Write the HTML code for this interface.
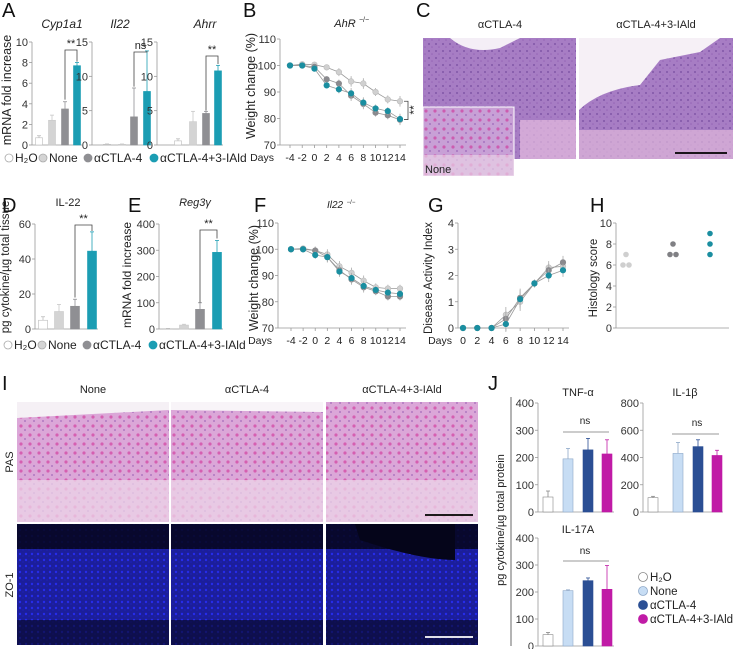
<!DOCTYPE html>
<html><head><meta charset="utf-8"><style>
body{margin:0;background:#fff;}
svg{display:block;font-family:"Liberation Sans",sans-serif;}
</style></head><body>
<svg id="fig" width="733" height="649" viewBox="0 0 733 649" xmlns="http://www.w3.org/2000/svg">
<defs>
<pattern id="tex1" width="7" height="7" patternUnits="userSpaceOnUse"><circle cx="2" cy="2" r="1" fill="#5b2f8a" opacity="0.5"/><circle cx="5" cy="5" r="0.8" fill="#7a3fa0" opacity="0.4"/></pattern>
<pattern id="tex2" width="9" height="9" patternUnits="userSpaceOnUse"><circle cx="3" cy="3" r="1.6" fill="#d0188a" opacity="0.5"/><circle cx="7" cy="7" r="1" fill="#7030a0" opacity="0.4"/></pattern>
<pattern id="tex3" width="6" height="6" patternUnits="userSpaceOnUse"><circle cx="2" cy="2" r="1.2" fill="#2830ff" opacity="0.8"/><circle cx="5" cy="4" r="0.9" fill="#1a20c0" opacity="0.7"/></pattern>
</defs>
<g id="root"></g>
</svg>
<script>
// ---- data arrays ----
const groups = ["H2O","None","aCTLA-4","aCTLA-4+3-IAld"];
const cyp1a1 = [0.7,2.4,3.5,7.7];
const cyp1a1Err = [0.2,0.5,0.7,0.3];
const il22 = [0.1,0.1,4.1,7.8];
const il22Err = [0.05,0.05,4.2,5.9];
const ahrr = [0.6,3.4,4.6,10.8];
const ahrrErr = [0.3,1.5,0.3,0.8];
const il22Prot = [5,10,13,44.5];
const il22ProtErr = [2,4,4,11];
const reg3g = [1,15,75,292];
const reg3gErr = [1,3,25,45];
const wDays = [-4,-2,0,2,4,6,8,10,12,14];
const bNone = [100,100.5,100.3,99.3,97.5,94,93.2,90,87.2,86.5];
const bCtla = [100,100,99.5,94.8,93.2,88.6,85.5,82.2,81.2,79.5];
const bIald = [100,100,98.8,92.5,91,89.5,86,83.8,82.8,79.8];
const bErr = [0.5,0.8,1,1,1.5,2,2,1.5,1.5,2];
const fNone = [100,100.3,99.5,98,93.5,91,88,85.5,85,85];
const fCtla = [100,100,99.5,97,92,88.5,85.5,84,82,82];
const fIald = [100,100,97.8,97,91.5,89,86,84.5,83.5,83];
const fErr = [0.5,0.8,1.5,2,2,2,2,1.5,1.5,1.5];
const gDays = [0,2,4,6,8,10,12,14];
const gNone = [0,0,0,0.5,1,1.7,2.3,2.35];
const gCtla = [0,0,0,0.35,1.15,1.7,2.2,2.5];
const gIald = [0,0,0,0.15,1.1,1.7,2.0,2.2];
const gErr = [0,0,0,0.3,0.35,0.15,0.25,0.25];
const hNone = [6,6,7];
const hCtla = [7,7,8];
const hIald = [7,8,9];
const tnf = [55,195,228,213];
const tnfErr = [22,38,42,52];
const il1b = [105,430,480,415];
const il1bErr = [10,80,50,38];
const il17 = [42,205,242,210];
const il17Err = [8,3,10,88];
const tickA10 = [0,2,4,6,8,10];
const tick15 = [0,5,10,15];
const tick60 = [0,20,40,60];
const tick400 = [0,100,200,300,400];
const tick800 = [0,200,400,600,800];
const tickW = [70,80,90,100,110];
const tickDAI = [0,1,2,3,4];
const tickH = [0,2,4,6,8,10];

const NS="http://www.w3.org/2000/svg";
const root=document.getElementById('root');
function el(tag,attrs,parent,text){const e=document.createElementNS(NS,tag);for(const k in attrs)e.setAttribute(k,attrs[k]);if(text!==undefined)e.textContent=text;(parent||root).appendChild(e);return e;}
function grp(name){const g=el('g',{});


return g;}
function lin(d0,d1,r0,r1){return v=>r0+(v-d0)*(r1-r0)/(d1-d0);}
const C_A=['#ffffff','#d4d4d4','#8f8f93','#1b9db3'];
const S_A=['#bbb','#c8c8c8','#8f8f93','#1b9db3'];
const C_J=['#ffffff','#c7ddf4','#2b4f94','#c01ba6'];
const S_J=['#888','#8ea8c8','#2b4f94','#c01ba6'];

function txt(g,x,y,s,opt){opt=opt||{};const t=el('text',{x:x,y:y,'font-size':opt.fs||10,'text-anchor':opt.a||'middle',fill:opt.fill||'#222','font-style':opt.it?'italic':'normal'},g,s);if(opt.rot)t.setAttribute('transform','rotate(-90 '+x+' '+y+')');return t;}

function yAxis(g,x,y,ticks,fs){const lo=ticks[0],hi=ticks[ticks.length-1];
 el('line',{x1:x,y1:y(hi),x2:x,y2:y(lo),stroke:'#999','stroke-width':0.8},g);
 ticks.forEach(t=>{el('line',{x1:x-3,y1:y(t),x2:x,y2:y(t),stroke:'#999','stroke-width':0.8},g);
   txt(g,x-4,y(t)+4,String(t),{a:'end',fs:fs||11,fill:'#333'});});}

function barChart(name,ax,vals,errs,xs,y,ticks,bw,cols,strokes,x2){
 const g=grp(name);yAxis(g,ax,y,ticks);
 el('line',{x1:ax,y1:y(ticks[0]),x2:x2||ax+4,y2:y(ticks[0]),stroke:'#999','stroke-width':0.8},g);
 vals.forEach((v,i)=>{const ye=y(v+errs[i]);
  el('line',{x1:xs[i],y1:y(v),x2:xs[i],y2:ye,stroke:strokes[i],'stroke-width':0.8},g);
  el('line',{x1:xs[i]-2,y1:ye,x2:xs[i]+2,y2:ye,stroke:strokes[i],'stroke-width':0.8},g);
  const r=el('rect',{x:xs[i]-bw/2,y:y(v),width:bw,height:y(ticks[0])-y(v),fill:cols[i],stroke:strokes[i],'stroke-width':0.6},g);
  
  });
 return g;}
function bracket(g,x1,x2,yTop,y1,y2,label){el('path',{d:`M${x1} ${y1}V${yTop}H${x2}V${y2}`,fill:'none',stroke:'#444','stroke-width':0.8},g);txt(g,(x1+x2)/2,yTop-3,label,{fs:11});}

function letter(s,x,y){const t=txt(root,x,y,s,{a:'start',fs:20,fill:'#111'});
 
 }

letter('A',2,17);letter('B',243,17);letter('C',416,17);
letter('D',2,212);letter('E',128,212);letter('F',254,212);letter('G',428,212);letter('H',590,212);
letter('I',2,390);letter('J',488,390);

// ---- Panel A ----
const yA10=lin(0,10,145,42), yA15=lin(0,15,145,42);
let g=barChart('cyp1a1-chart',32,cyp1a1,cyp1a1Err,[39,52,65,77],yA10,tickA10,7,C_A,S_A,82);
txt(g,62,28,'Cyp1a1',{fs:12,it:true});bracket(g,65,77,50,yA10(4.4),yA10(8.1),'**');
txt(g,11,90,'mRNA fold increase',{fs:12.5,rot:true});
g=barChart('il22-mrna-chart',92,il22,il22Err,[107,122,134,147],yA15,tick15,7,C_A,S_A,152);
txt(g,120,28,'Il22',{fs:12,it:true});bracket(g,134,147,52,yA15(8.5),yA15(13.7),'ns');
g=barChart('ahrr-chart',157,ahrr,ahrrErr,[178,193,206,218],yA15,tick15,7,C_A,S_A,223);
txt(g,205,28,'Ahrr',{fs:12,it:true});bracket(g,206,218,56,yA15(5),yA15(11.8),'**');

function legendA(y,x0,name){const lg=grp(name);
 const items=[['H\u2082O',0],['None',1],['\u03b1CTLA-4',2],['\u03b1CTLA-4+3-IAld',3]];
 const xs=[x0,x0+34,x0+79,x0+145];
 items.forEach((it,i)=>{el('circle',{cx:xs[i]+4,cy:y-4,r:4,fill:C_A[i],stroke:i<2?'#aaa':C_A[i],'stroke-width':0.8},lg);txt(lg,xs[i]+10,y,it[0],{a:'start',fs:12});});}
legendA(162,5,'legend-a');

// ---- line chart helper ----
function lineChart(name,x,y,days,series,errs,colors,ticks,ax){
 const g=grp(name);yAxis(g,ax,y,ticks);
 el('line',{x1:ax,y1:y(ticks[0]),x2:x(days[days.length-1])+6,y2:y(ticks[0]),stroke:'#999','stroke-width':0.8},g);
 days.forEach(d=>{el('line',{x1:x(d),y1:y(ticks[0]),x2:x(d),y2:y(ticks[0])+3,stroke:'#999','stroke-width':0.8},g);txt(g,x(d),y(ticks[0])+16,String(d),{fs:10.5});});
 txt(g,ax-6,y(ticks[0])+16,'Days',{a:'end',fs:10.5});
 series.forEach((s,si)=>{
  el('polyline',{points:days.map((d,i)=>x(d)+','+y(s[i])).join(' '),fill:'none',stroke:'#999','stroke-width':0.8},g);
  days.forEach((d,i)=>{const e=errs[i];if(e>0)el('line',{x1:x(d),y1:y(s[i]-e),x2:x(d),y2:y(s[i]+e),stroke:'#aaa','stroke-width':0.8},g);});
  days.forEach((d,i)=>{const c=el('circle',{cx:x(d),cy:y(s[i]),r:2.8,fill:colors[si],stroke:si==0?'#bbb':colors[si],'stroke-width':0.6},g);
   
   });
 });return g;}

const colsL=['#d0d0d0','#8a8a8e','#1a8ea0'];
const yB=lin(70,110,145,39), xB=lin(-4,14,290,400);
g=lineChart('weight-ahr-chart',xB,yB,wDays,[bNone,bCtla,bIald],bErr,colsL,tickW,280);
txt(g,345,27,'AhR',{fs:11,it:true});txt(g,364,22,'\u2212/\u2212',{fs:7});
txt(g,255,86,'Weight change (%)',{fs:12.5,rot:true});
el('path',{d:`M404 ${yB(86.5)}H408V${yB(79.6)}H404`,fill:'none',stroke:'#444','stroke-width':0.8},g);
txt(g,418,110,'**',{fs:12,rot:true});

// ---- Panel C images ----
g=grp('histology-c');
txt(g,500,28,'\u03b1CTLA-4',{fs:11});txt(g,656,28,'\u03b1CTLA-4+3-IAld',{fs:11});
function img(g,x,y,w,h,base,tex,name){const r=el('rect',{x:x,y:y,width:w,height:h,fill:base},g);
 
 
 el('rect',{x:x,y:y,width:w,height:h,fill:'url(#'+tex+')'},g);}
img(g,423,38,153,121,'#a77dc4','tex1','img-actla4-c');
el('path',{d:'M450 38 Q470 55 500 48 L520 38Z',fill:'#f4eef6'},g);
el('rect',{x:520,y:120,width:56,height:39,fill:'#e6bce0',opacity:0.7},g);
img(g,579,38,154,121,'#a77dc4','tex1','img-actla4-iald-c');
el('path',{d:'M579 38 V110 Q600 90 640 85 L660 60 L700 52 L720 38Z',fill:'#f6f0f6'},g);
el('rect',{x:579,y:130,width:154,height:29,fill:'#e0b8dc',opacity:0.7},g);
el('line',{x1:675,y1:153,x2:727,y2:153,stroke:'#000','stroke-width':1.8},g);
img(g,423,107,91,69,'#c8a0d6','tex2','img-none-inset');
el('rect',{x:423,y:107,width:91,height:69,fill:'none',stroke:'#fff','stroke-width':1},g);
el('rect',{x:423,y:155,width:91,height:21,fill:'#e8d0e6',opacity:0.7},g);
txt(g,425,173,'None',{a:'start',fs:11});

// ---- Panel D, E ----
const yD=lin(0,60,329,224), yE=lin(0,400,329,224);
g=barChart('il22-protein-chart',35,il22Prot,il22ProtErr,[43,59,75,92],yD,tick60,9,C_A,S_A,98);
txt(g,68,206,'IL-22',{fs:11});bracket(g,75,92,225,yD(18),yD(56),'**');
txt(g,9,267,'pg cytokine/\u00b5g total tissue',{fs:11.5,rot:true});
g=barChart('reg3g-chart',159,reg3g,reg3gErr,[168,184,200,217],yE,tick400,9,C_A,S_A,223);
txt(g,195,206,'Reg3\u03b3',{fs:11,it:true});bracket(g,200,217,230,yE(100),yE(345),'**');
txt(g,131,275,'mRNA fold increase',{fs:12,rot:true});
legendA(349,4,'legend-d');

// ---- Panel F ----
const yF=lin(70,110,328,223), xF=lin(-4,14,291,400);
g=lineChart('weight-il22-chart',xF,yF,wDays,[fNone,fCtla,fIald],fErr,colsL,tickW,278);
txt(g,335,208,'Il22',{fs:10,it:true});txt(g,351,204,'\u2212/\u2212',{fs:6});
txt(g,258,278,'Weight change (%)',{fs:12.5,rot:true});

// ---- Panel G ----
const yG=lin(0,4,328,223), xG=lin(0,14,463,563);
g=lineChart('dai-chart',xG,yG,gDays,[gNone,gCtla,gIald],gErr,colsL,tickDAI,458);
txt(g,432,278,'Disease Activity Index',{fs:11.5,rot:true});

// ---- Panel H ----
const yH=lin(0,10,328,223);
g=grp('histology-score-chart');yAxis(g,616,yH,tickH);
el('line',{x1:616,y1:328,x2:729,y2:328,stroke:'#999','stroke-width':0.8},g);
txt(g,597,278,'Histology score',{fs:11.5,rot:true});
function dots(vals,cx,col){const cnt={};vals.forEach(v=>{cnt[v]=(cnt[v]||0)+1;});const seen={};
 vals.forEach(v=>{const n=cnt[v];seen[v]=(seen[v]||0);const off=n>1?(seen[v]-(n-1)/2)*6:0;seen[v]++;
  const c=el('circle',{cx:cx+off,cy:yH(v),r:2.8,fill:col},g);
  
  });}
dots(hNone,626,'#cfcfcf');dots(hCtla,673,'#808084');dots(hIald,710,'#1a8ea0');

// ---- Panel I ----
g=grp('histology-i');
txt(g,93,393,'None',{fs:11});txt(g,247,393,'\u03b1CTLA-4',{fs:11});txt(g,402,393,'\u03b1CTLA-4+3-IAld',{fs:11});
txt(g,13,462,'PAS',{fs:11,rot:true});txt(g,13,585,'ZO-1',{fs:11,rot:true});
const ix=[17,171,326];
ix.forEach((x,i)=>{img(g,x,402,152,120,'#dba7d8','tex2','img-pas-'+i);
 el('rect',{x:x,y:480,width:152,height:42,fill:'#ecd4e8',opacity:0.75},g);
 img(g,x,524,152,121,'#1c1e9a','tex3','img-zo1-'+i);
 el('rect',{x:x,y:524,width:152,height:25,fill:'#05051a',opacity:0.85},g);
 el('rect',{x:x,y:620,width:152,height:25,fill:'#05051a',opacity:0.6},g);});
el('path',{d:'M17 402 H169 V410 L17 418Z',fill:'#f5f0f5'},g);
el('path',{d:'M171 402 H323 V412 L171 410Z',fill:'#f8f4f8'},g);
el('path',{d:'M355 524 H455 L455 560 Q420 560 360 540Z',fill:'#05051a'},g);
el('line',{x1:425,y1:515,x2:473,y2:515,stroke:'#000','stroke-width':1.8},g);
el('line',{x1:425,y1:637,x2:473,y2:637,stroke:'#fff','stroke-width':1.8},g);

// ---- Panel J ----
const yJ1=lin(0,400,512,403), yJ2=lin(0,800,512,403), yJ3=lin(0,400,646,538);
g=barChart('tnf-chart',538,tnf,tnfErr,[548,568,588,607],yJ1,tick400,10,C_J,S_J,614);
txt(g,578,396,'TNF-\u03b1',{fs:11});el('line',{x1:563,y1:432,x2:609,y2:432,stroke:'#999','stroke-width':1},g);txt(g,585,424,'ns',{fs:10});
g=barChart('il1b-chart',643,il1b,il1bErr,[653,678,698,717],yJ2,tick800,10,C_J,S_J,723);
txt(g,685,396,'IL-1\u03b2',{fs:11});el('line',{x1:672,y1:434,x2:719,y2:434,stroke:'#999','stroke-width':1},g);txt(g,697,426,'ns',{fs:10});
g=barChart('il17a-chart',538,il17,il17Err,[548,568,588,607],yJ3,tick400,10,C_J,S_J,614);
txt(g,578,533,'IL-17A',{fs:11});el('line',{x1:563,y1:561,x2:609,y2:561,stroke:'#999','stroke-width':1},g);txt(g,585,554,'ns',{fs:10});
el('line',{x1:511,y1:397,x2:511,y2:646,stroke:'#444','stroke-width':0.8},g);
txt(g,504,520,'pg cytokine/\u00b5g total protein',{fs:11,rot:true});
const lgJ=grp('legend-j');
['H\u2082O','None','\u03b1CTLA-4','\u03b1CTLA-4+3-IAld'].forEach((s,i)=>{const y=577+i*14;
 el('circle',{cx:643,cy:y,r:4.5,fill:C_J[i],stroke:S_J[i],'stroke-width':0.8},lgJ);txt(lgJ,650,y+4,s,{a:'start',fs:11.5});});
</script>
</body></html>
